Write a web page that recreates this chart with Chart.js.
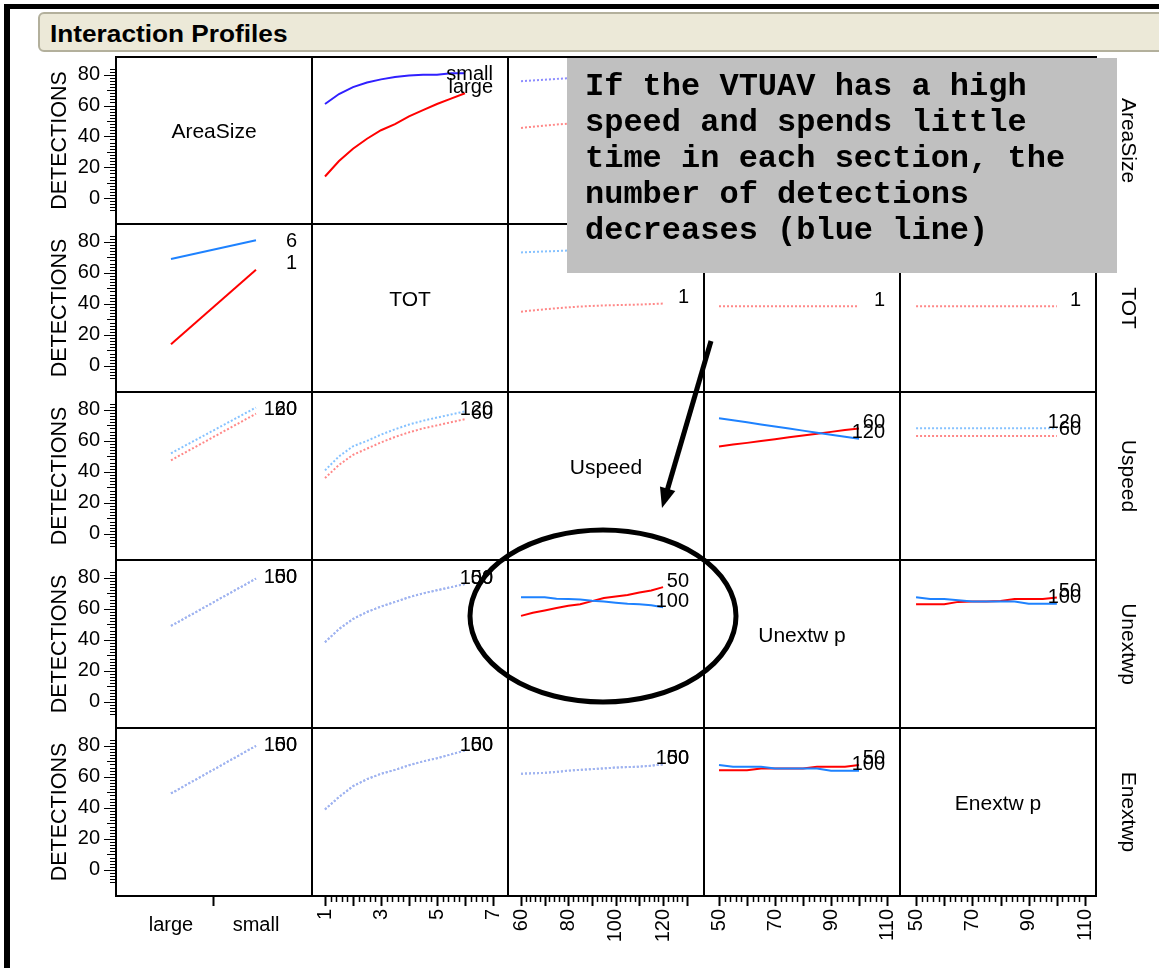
<!DOCTYPE html>
<html><head><meta charset="utf-8">
<script src="https://cdn.jsdelivr.net/npm/chart.js@4.4.0/dist/chart.umd.min.js"></script>
<style>
html,body{margin:0;padding:0;background:#fff;}
body{width:1159px;height:968px;overflow:hidden;position:relative;font-family:"Liberation Sans",Arial,sans-serif;}
canvas{position:absolute;}
#overlay{z-index:10;pointer-events:none;left:0;top:0;}
</style></head><body>
<div style="position:absolute;left:4px;top:4px;width:1155px;height:5px;background:#000"></div>
<div style="position:absolute;left:4px;top:4px;width:6px;height:964px;background:#000"></div>
<div style="position:absolute;left:38px;top:12px;width:1140px;height:40px;background:#ECE9D8;border:2px solid #B3B09C;border-radius:6px;box-sizing:border-box;overflow:hidden">
 <span id="ttl" style="position:absolute;left:10px;top:7px;font:bold 23px 'Liberation Sans',Arial,sans-serif;transform:scaleX(1.14);transform-origin:left center;white-space:nowrap;color:#000">Interaction Profiles</span>
</div>
<canvas id="overlay" width="1159" height="968"></canvas>
<script>
// ---------------- data ----------------
const factorNames    = ['AreaSize','TOT','Uspeed','Unextwp','Enextwp'];
const diagonalLabels = ['AreaSize','TOT','Uspeed','Unextw p','Enextw p'];
const areaSizeLevels = ['large','small'];
const yTickValues    = [0,20,40,60,80];
const xTickLabelValues = [[0,1],[1,3,5,7],[60,80,100,120],[50,70,90,110],[50,70,90,110]];
const traceLevelNames = [['small','large'],['6','1'],['120','60'],['100','50'],['100','50']];

const areaSizeX = [0,1];
const totX      = [1,1.5,2,2.5,3,3.5,4,4.5,5,5.5,6];
const uspeedX   = [60,65,70,75,80,85,90,95,100,105,110,115,120];
const unextwpX  = [50,55,60,65,70,75,80,85,90,95,100];
const enextwpX  = [50,55,60,65,70,75,80,85,90,95,100];

// row AreaSize (small / large)
const area_small_vs_TOT     = [61,67.5,72,75,77,78.5,79.5,80,80,81,81];
const area_large_vs_TOT     = [14,24,32,38.5,44,48,53,57,61,64.5,68];
const area_small_vs_Uspeed  = [75.8,76.3,76.8,77.3,77.7,78.1,78.5,78.8,79.1,79.4,79.7,80,80.3];
const area_large_vs_Uspeed  = [45.5,46.3,47,47.7,48.3,48.9,49.5,50,50.5,51,51.5,52,52.4];
const area_small_vs_Unextwp = [78,78,78.2,78.2,78.3,78.3,78.4,78.4,78.5,78.5,78.5];
const area_large_vs_Unextwp = [48,48,48.2,48.2,48.3,48.3,48.4,48.4,48.5,48.5,48.5];
const area_small_vs_Enextwp = [78,78,78.1,78.1,78.2,78.2,78.3,78.3,78.4,78.4,78.4];
const area_large_vs_Enextwp = [48,48,48.1,48.1,48.2,48.2,48.3,48.3,48.4,48.4,48.4];
// row TOT (6 / 1)
const tot6_vs_Area     = [69,81];
const tot1_vs_Area     = [14,62];
const tot6_vs_Uspeed   = [73.2,73.5,73.8,74.1,74.4,74.7,75,75.2,75.4,75.6,75.8,76,76.2];
const tot1_vs_Uspeed   = [35,35.8,36.5,37.2,37.8,38.3,38.7,39,39.2,39.4,39.6,39.9,40.2];
const tot6_vs_Unextwp  = [74,74,74,74,74,74,74,74,74,74,74];
const tot1_vs_Unextwp  = [38.5,38.5,38.5,38.5,38.5,38.5,38.5,38.5,38.5,38.5,38.5];
const tot6_vs_Enextwp  = [74,74,74,74,74,74,74,74,74,74,74];
const tot1_vs_Enextwp  = [38.5,38.5,38.5,38.5,38.5,38.5,38.5,38.5,38.5,38.5,38.5];
// row Uspeed (120 / 60)
const us120_vs_Area    = [52,81.5];
const us60_vs_Area     = [47.5,77.5];
const us120_vs_TOT     = [41,50,56.5,60,64,67.5,70.5,73,75,77,79];
const us60_vs_TOT      = [36,44.5,51,55,59,62.5,65.5,68,70,72,74];
const us120_vs_Unextwp = [74.6,73.3,72,70.6,69.3,68,66.6,65.3,64,62.6,61.3];
const us60_vs_Unextwp  = [56.4,57.6,58.7,59.9,61.1,62.3,63.4,64.6,65.8,67,68];
const us120_vs_Enextwp = [68.2,68.2,68.2,68.2,68.2,68.2,68.2,68.2,68.2,68.2,68.2];
const us60_vs_Enextwp  = [63.2,63.2,63.2,63.2,63.2,63.2,63.2,63.2,63.2,63.2,63.2];
// row Unextwp (100 / 50)
const un100_vs_Area    = [49,79.5];
const un50_vs_Area     = [49,79.5];
const un100_vs_TOT     = [38.5,47,53.5,58,61.5,64.5,67.5,70,72,74,76];
const un50_vs_TOT      = [38.5,47,53.5,58,61.5,64.5,67.5,70,72,74,76];
const un100_vs_Uspeed  = [67.5,67.5,67.5,66.5,66.3,66,65.3,64.8,64,63.3,63,62.3,61];
const un50_vs_Uspeed   = [55.5,57.5,59,60.5,62,63,65,67,68,69,70.5,71.8,74];
const un100_vs_Enextwp = [67.5,66.3,66.3,65.5,64.8,64.8,64.8,64.8,63.3,63.3,63.3];
const un50_vs_Enextwp  = [63,63,63,64.5,64.8,64.8,65,66.3,66.3,66.3,67.4];
// row Enextwp (100 / 50)
const en100_vs_Area    = [49.3,80];
const en50_vs_Area     = [49.3,80];
const en100_vs_TOT     = [39,47,54,58.5,62,64.5,67.5,70,72,74.5,77];
const en50_vs_TOT      = [39,47,54,58.5,62,64.5,67.5,70,72,74.5,77];
const en100_vs_Uspeed  = [62,62.3,62.6,63.2,64,64.5,65,65.5,66,66.3,66.6,67.2,68];
const en50_vs_Uspeed   = [62,62.3,62.6,63.2,64,64.5,65,65.5,66,66.3,66.6,67.2,68];
const en100_vs_Unextwp = [67.7,66.5,66.5,66.5,65.4,65.4,65.4,65.4,63.9,63.9,63.9];
const en50_vs_Unextwp  = [64.3,64.3,64.3,65.4,65.4,65.4,65.4,66.5,66.5,66.5,67.7];

// ---------------- layout / styles ----------------
const FAM = '"Liberation Sans", Arial, sans-serif';
const rowY = [57,224,392,560,728,896];
const colX = [116,312,508,704,900,1096];
const xMin = [-0.647,0.536,54.5,44.64,44.3];
const xMax = [1.659,7.536,137.3,114.64,113.9];
const Y_MIN = -16.8, Y_MAX = 91.5;
const AXIS_W = 104, AXIS_H = 72;
const xGrids = [areaSizeX, totX, uspeedX, unextwpX, enextwpX];

const C = {
  red:'#FF0000', blue:'#1E82FF', blue0:'#3020FF',
  dRed:'#FF8888', dBlue:'#86C2FF', dBlue0:'#8C8CFF', merged:'#A0B4F0'
};
const solidCells = {'0,1':1,'1,0':1,'2,3':1,'3,2':1,'3,4':1,'4,3':1};

const table = {
 '0,1':[area_small_vs_TOT, area_large_vs_TOT], '0,2':[area_small_vs_Uspeed, area_large_vs_Uspeed],
 '0,3':[area_small_vs_Unextwp, area_large_vs_Unextwp], '0,4':[area_small_vs_Enextwp, area_large_vs_Enextwp],
 '1,0':[tot6_vs_Area, tot1_vs_Area], '1,2':[tot6_vs_Uspeed, tot1_vs_Uspeed],
 '1,3':[tot6_vs_Unextwp, tot1_vs_Unextwp], '1,4':[tot6_vs_Enextwp, tot1_vs_Enextwp],
 '2,0':[us120_vs_Area, us60_vs_Area], '2,1':[us120_vs_TOT, us60_vs_TOT],
 '2,3':[us120_vs_Unextwp, us60_vs_Unextwp], '2,4':[us120_vs_Enextwp, us60_vs_Enextwp],
 '3,0':[un100_vs_Area, un50_vs_Area], '3,1':[un100_vs_TOT, un50_vs_TOT],
 '3,2':[un100_vs_Uspeed, un50_vs_Uspeed], '3,4':[un100_vs_Enextwp, un50_vs_Enextwp],
 '4,0':[en100_vs_Area, en50_vs_Area], '4,1':[en100_vs_TOT, en50_vs_TOT],
 '4,2':[en100_vs_Uspeed, en50_vs_Uspeed], '4,3':[en100_vs_Unextwp, en50_vs_Unextwp]
};

// tick-mark specs for each column's x axis: [from, to, step, majorEvery]
const xTickSpecs = [null, [1,7,0.2,1], [60,130,2,10], [50,110,2,10], [50,110,2,10]];

function datasetsFor(r,c){
  const key = r+','+c;
  if(!table[key]) return [];
  const [hi, lo] = table[key];
  const xs = xGrids[c];
  const solid = !!solidCells[key];
  let blue, red;
  if(solid){ blue = r===0 ? C.blue0 : C.blue; red = C.red; }
  else if(r>=3){ blue = C.merged; red = C.merged; }
  else { blue = r===0 ? C.dBlue0 : C.dBlue; red = C.dRed; }
  const mk = (ys,color,label,order)=>({
    label, order, data: xs.map((x,i)=>({x, y: ys[i]})), borderColor: color, borderWidth: 2,
    borderDash: solid ? [] : [2,2], pointRadius:0, fill:false, tension:0
  });
  // blue drawn on top (lower order)
  return [mk(lo, red, traceLevelNames[r][1], 1), mk(hi, blue, traceLevelNames[r][0], 0)];
}

const decoPlugin = {
  id:'deco',
  afterDatasetsDraw(chart, args, o){
    const ctx = chart.ctx, ca = chart.chartArea;
    ctx.save();
    ctx.font = '20px ' + FAM; ctx.fillStyle = '#000'; ctx.textAlign = 'right'; ctx.textBaseline = 'middle';
    [1,0].forEach(i=>{
      const ds = chart.data.datasets[i]; if(!ds) return;
      const meta = chart.getDatasetMeta(i); const el = meta.data[meta.data.length-1];
      const y = Math.max(el.y - 6, ca.top + 17);
      ctx.fillText(ds.label, ca.right - 15, y);
    });
    ctx.restore();
  },
  afterDraw(chart, args, o){
    const ctx = chart.ctx, ca = chart.chartArea;
    ctx.save(); ctx.strokeStyle = '#000'; ctx.lineWidth = 1;
    if(o.left){
      const ys = chart.scales.y;
      for(let v=-8; v<=84; v+=2){
        const p = Math.round(ys.getPixelForValue(v)) + 0.5;
        const len = v%20===0 ? 12 : (v%10===0 ? 9 : 6);
        ctx.beginPath(); ctx.moveTo(ca.left-len, p); ctx.lineTo(ca.left, p); ctx.stroke();
      }
    }
    if(o.bottom){
      const xs = chart.scales.x;
      const spec = xTickSpecs[o.col];
      if(!spec){
        const p = Math.round(xs.getPixelForValue(0.5)) + 0.5;
        ctx.lineWidth = 2;
        ctx.beginPath(); ctx.moveTo(p, ca.bottom); ctx.lineTo(p, ca.bottom+10); ctx.stroke();
      } else {
        const [a,b,st,maj] = spec;
        const n = Math.round((b-a)/st);
        for(let k=0;k<=n;k++){
          const v = a + k*st;
          const isMaj = Math.abs(v/maj - Math.round(v/maj)) < 1e-6;
          const p = Math.round(xs.getPixelForValue(v)) + 0.5;
          const len = isMaj ? 10 : 6;
          ctx.lineWidth = isMaj ? 2 : 1.5;
          ctx.beginPath(); ctx.moveTo(p, ca.bottom); ctx.lineTo(p, ca.bottom+len); ctx.stroke();
        }
      }
    }
    ctx.restore();
  }
};

for(let r=0;r<5;r++){
  for(let c=0;c<5;c++){
    const isLeft = c===0, isBottom = r===4;
    const cv = document.createElement('canvas');
    const left = colX[c] - (isLeft ? AXIS_W : 0);
    const top = rowY[r];
    const w = colX[c+1] - colX[c] + (isLeft ? AXIS_W : 0);
    const h = rowY[r+1] - rowY[r] + (isBottom ? AXIS_H : 0);
    cv.width = w; cv.height = h;
    cv.style.left = left + 'px'; cv.style.top = top + 'px';
    cv.style.width = w + 'px'; cv.style.height = h + 'px';
    document.body.appendChild(cv);
    const col = c;
    new Chart(cv, {
      type:'line',
      data:{ datasets: datasetsFor(r,c) },
      plugins:[decoPlugin],
      options:{
        responsive:false, animation:false, devicePixelRatio:1, events:[],
        layout:{ padding:0 },
        plugins:{ legend:{display:false}, tooltip:{enabled:false}, deco:{left:isLeft, bottom:isBottom, col:c} },
        scales:{
          x:{
            type:'linear', min:xMin[c], max:xMax[c], display:isBottom,
            afterFit:(s)=>{ s.height = isBottom ? AXIS_H : 0; s.paddingLeft = 0; s.paddingRight = 0; s.paddingTop = 0; s.paddingBottom = 0; },
            afterBuildTicks:(s)=>{ s.ticks = xTickLabelValues[col].map(v=>({value:v})); },
            grid:{display:false, drawTicks:false}, border:{display:false},
            ticks:{
              autoSkip:false, minRotation: col===0?0:90, maxRotation: col===0?0:90,
              padding: col===0 ? 17 : 13, color:'#000',
              font:{family:FAM, size:20},
              callback:(v)=> col===0 ? areaSizeLevels[v] : String(v)
            }
          },
          y:{
            type:'linear', min:Y_MIN, max:Y_MAX, display:isLeft,
            afterFit:(s)=>{ s.width = isLeft ? AXIS_W : 0; s.paddingTop = 0; s.paddingBottom = 0; s.paddingLeft = 0; s.paddingRight = 0; },
            afterBuildTicks:(s)=>{ s.ticks = yTickValues.map(v=>({value:v})); },
            grid:{display:false, drawTicks:false}, border:{display:false},
            ticks:{ autoSkip:false, padding:16, color:'#000', font:{family:FAM, size:20} },
            title:{ display:true, text:'DETECTIONS', color:'#000',
                    font:{family:FAM, size:21.5, lineHeight:1}, padding:{top:37, bottom:0} }
          }
        }
      }
    });
  }
}

// ---------------- overlay: frame, labels, annotation ----------------
const g = document.getElementById('overlay').getContext('2d');
g.strokeStyle = '#000'; g.lineWidth = 2;
rowY.forEach(y=>{ g.beginPath(); g.moveTo(colX[0]-1, y); g.lineTo(colX[5]+1, y); g.stroke(); });
colX.forEach(x=>{ g.beginPath(); g.moveTo(x, rowY[0]-1); g.lineTo(x, rowY[5]+1); g.stroke(); });

g.fillStyle = '#000'; g.font = '21px ' + FAM; g.textAlign = 'center'; g.textBaseline = 'middle';
diagonalLabels.forEach((t,i)=>{ g.fillText(t, (colX[i]+colX[i+1])/2, (rowY[i]+rowY[i+1])/2 - 8); });
factorNames.forEach((t,i)=>{
  g.save(); g.translate(1128, (rowY[i]+rowY[i+1])/2); g.rotate(Math.PI/2); g.fillText(t, 0, 0); g.restore();
});

// ellipse
g.lineWidth = 5; g.beginPath(); g.ellipse(603, 616, 133, 86, 0, 0, Math.PI*2); g.stroke();

// annotation box
const noteLines = ['If the VTUAV has a high','speed and spends little','time in each section, the','number of detections','decreases (blue line)'];
g.fillStyle = '#C0C0C0'; g.fillRect(567, 58, 550, 215);
g.fillStyle = '#000'; g.font = 'bold 32px "Liberation Mono", "Courier New", monospace';
g.textAlign = 'left'; g.textBaseline = 'alphabetic';
noteLines.forEach((l,i)=> g.fillText(l, 585, 95 + i*36));

// arrow
(function(){
  const x0=711, y0=341, tx=662, ty=508;
  const dx=tx-x0, dy=ty-y0, L=Math.hypot(dx,dy), ux=dx/L, uy=dy/L;
  const bx=tx-20*ux, by=ty-20*uy, px=-uy, py=ux;
  g.lineWidth=5; g.lineCap='butt';
  g.beginPath(); g.moveTo(x0,y0); g.lineTo(bx+2*ux,by+2*uy); g.stroke();
  g.fillStyle='#000'; g.beginPath();
  g.moveTo(tx,ty); g.lineTo(bx+8*px,by+8*py); g.lineTo(bx-8*px,by-8*py); g.closePath(); g.fill();
})();
</script>
</body></html>
